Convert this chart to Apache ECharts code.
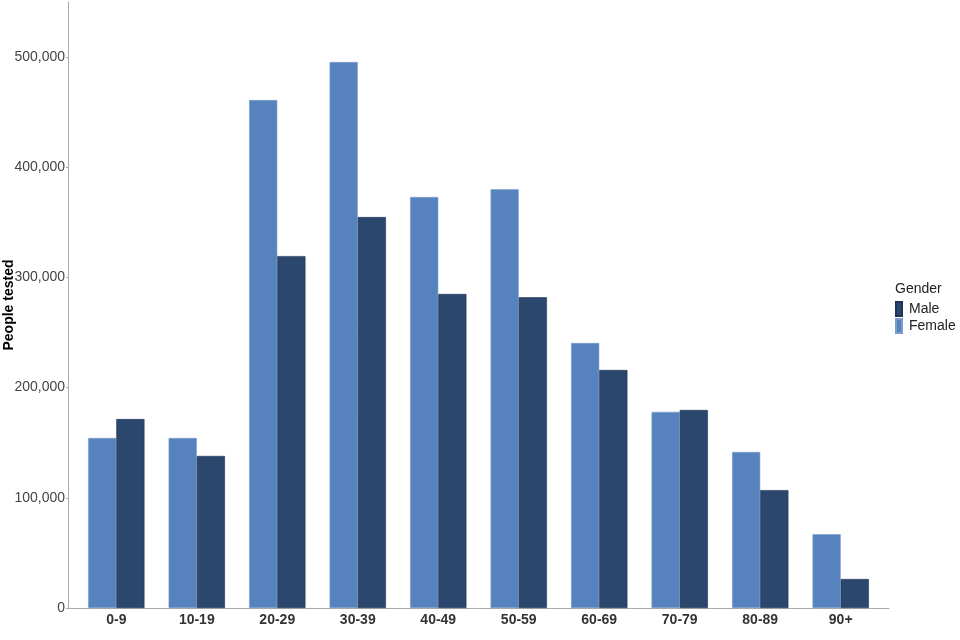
<!DOCTYPE html>
<html><head><meta charset="utf-8">
<script src="https://cdn.jsdelivr.net/npm/echarts@6/dist/echarts.min.js"></script>
<style>html,body{margin:0;padding:0;background:#fff}#c{width:960px;height:640px}</style>
</head><body><div id="c"></div>
<script>
const categories = ['0-9','10-19','20-29','30-39','40-49','50-59','60-69','70-79','80-89','90+'];
const female = [154300, 154300, 461000, 495500, 373000, 380000, 240500, 178000, 141600, 67000];
const male = [171500, 138000, 319400, 354800, 285000, 282000, 216000, 179700, 107000, 26300];
const yTicks = [0, 100000, 200000, 300000, 400000, 500000];
const xPos = categories.map((c, i) => i + 1);

const chart = echarts.init(document.getElementById('c'), null, {renderer:'canvas'});
chart.setOption({
  animation:false,
  textStyle:{fontFamily:'Liberation Sans, Arial, sans-serif'},
  grid:{left:68, right:71, top:2, bottom:32, outerBoundsMode:'none', containLabel:false},
  legend:{
    data:['Male','Female'], orient:'vertical', left:895, top:301, padding:0,
    itemWidth:6, itemHeight:14, itemGap:1, icon:'rect',
    textStyle:{fontSize:14, lineHeight:14, color:'#222', padding:[0,0,0,2]}
  },
  graphic:[{type:'text', left:895, top:282, style:{text:'Gender', fontSize:14, fill:'#222', fontFamily:'Liberation Sans, Arial, sans-serif'}}],
  xAxis:{
    type:'value', min:0.4, max:10.6,
    splitLine:{show:false},
    axisLine:{show:true, onZero:false, lineStyle:{color:'#aaa'}},
    axisTick:{show:false},
    axisLabel:{customValues:xPos, fontSize:14, fontWeight:'bold', color:'#333', margin:5,
      formatter:v => categories[Math.round(v) - 1] || ''}
  },
  yAxis:{
    type:'value', min:0, max:550000, interval:100000,
    name:'People tested', nameLocation:'middle', nameGap:52, nameMoveOverlap:false,
    nameTextStyle:{fontSize:14, fontWeight:'bold', color:'#000'},
    axisLine:{show:true, lineStyle:{color:'#aaa'}}, axisTick:{show:true, length:2, lineStyle:{color:'#aaa'}},
    splitLine:{show:false},
    axisLabel:{fontSize:14, color:'#444', margin:3, showMaxLabel:false,
      formatter:v => yTicks.includes(v) ? v.toLocaleString('en-US') : ''}
  },
  series:[
    {name:'Female', type:'bar', data:female.map((v,i)=>[xPos[i], v]), barWidth:'35%', barGap:'0%',
     itemStyle:{color:'#5682BD', borderColor:'#7C9DCB', borderWidth:0.6}},
    {name:'Male', type:'bar', data:male.map((v,i)=>[xPos[i], v]), barWidth:'35%', barGap:'0%',
     itemStyle:{color:'#2C476E', borderColor:'#1E3456', borderWidth:0.6}}
  ]
});
</script></body></html>
